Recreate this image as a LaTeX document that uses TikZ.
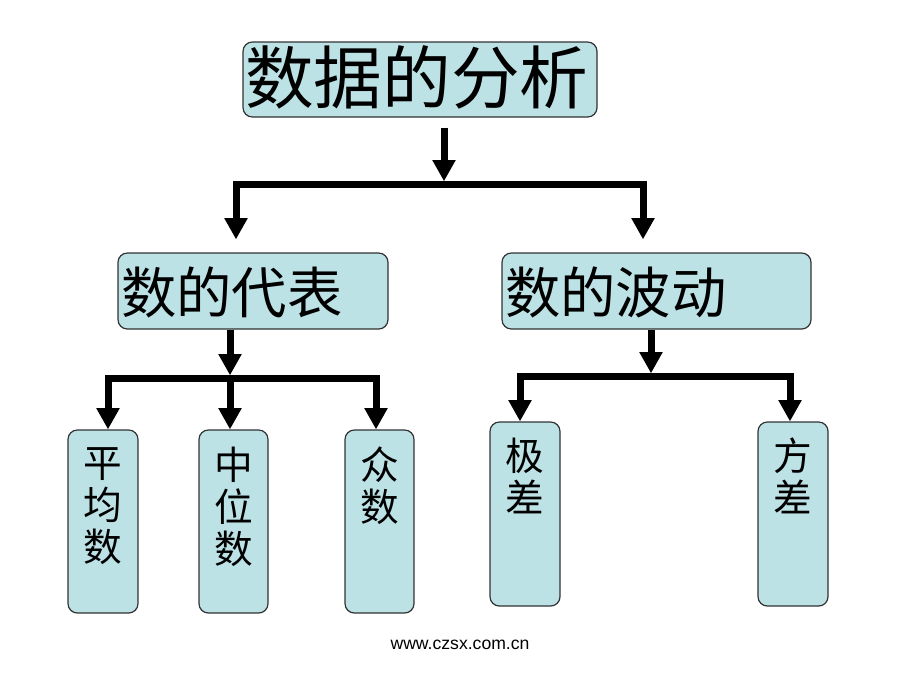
\documentclass[tikz,border=0pt]{standalone}
\usepackage{fontspec}
\setmainfont{Liberation Sans}
\newfontfamily\cjk{Noto Sans CJK SC}
\usetikzlibrary{arrows.meta}
\definecolor{boxfill}{RGB}{189,226,230}
\definecolor{boxline}{RGB}{50,50,50}
\begin{document}
\begin{tikzpicture}[x=0.75pt,y=-0.75pt,
  box/.style={draw=boxline,fill=boxfill,line width=0.9pt,rounded corners=7pt,inner sep=0pt},
  bigtxt/.style={inner sep=0pt,anchor=west,font=\cjk\fontsize{51.5}{56}\selectfont},
  midtxt/.style={inner sep=0pt,anchor=west,font=\cjk\fontsize{41.5}{46}\selectfont},
  vtxt/.style={inner sep=0pt,anchor=north,align=center,font=\cjk\fontsize{29}{31.5}\selectfont},
  arr/.style={line width=5.25pt,line join=miter,-{Triangle[width=16.5pt,length=16pt]}},
  barline/.style={line width=5.25pt,line join=miter}]
\useasboundingbox (0,0) rectangle (920,690);
% boxes
\node[box,minimum width=265.5pt,minimum height=56.25pt] (top) at (420,79.5) {};
\node[bigtxt] (toptxt) at (245,77) {数据的分析};
\node[box,minimum width=202.5pt,minimum height=57pt] (rep) at (253,291) {};
\node[midtxt] (reptxt) at (121,292) {数的代表};
\node[box,minimum width=231.75pt,minimum height=57pt] (flu) at (656.5,291) {};
\node[midtxt] (flutxt) at (505,292) {数的波动};
\node[box,minimum width=52.5pt,minimum height=137.25pt] (mean) at (103,521.5) {};
\node[vtxt] (meantxt) at (103,447) {平\\均\\数};
\node[box,minimum width=51.75pt,minimum height=137.25pt] (median) at (233.5,521.5) {};
\node[vtxt] (mediantxt) at (233.5,447) {中\\位\\数};
\node[box,minimum width=51.75pt,minimum height=137.25pt] (mode) at (379.5,521.5) {};
\node[vtxt] (modetxt) at (379.5,447) {众\\数};
\node[box,minimum width=52.5pt,minimum height=138pt] (range) at (525,514) {};
\node[vtxt] (rangetxt) at (525,438) {极\\差};
\node[box,minimum width=52.5pt,minimum height=138pt] (var) at (793,514) {};
\node[vtxt] (vartxt) at (793,438) {方\\差};
% junction coordinates
\coordinate (j1) at (444,184);
\coordinate (j1l) at (236,184);
\coordinate (j1r) at (643,184);
\coordinate (j2) at (230,378);
\coordinate (j2l) at (108,378);
\coordinate (j2r) at (376,378);
\coordinate (j3) at (651,376);
\coordinate (j3l) at (520,376);
\coordinate (j3r) at (790,376);
% top level
\draw[arr,shorten <=7.5pt,shorten >=2pt] (top.south -| j1) -- (j1);
\draw[arr,shorten >=9.75pt] (j1) -| (j1l |- rep.north);
\draw[arr,shorten >=9.75pt] (j1) -| (j1r |- flu.north);
% left branch
\draw[arr,shorten >=2pt] (rep.south -| j2) -- (j2);
\draw[arr] (j2) -- (j2 |- mode.north);
\draw[arr] (j2) -| (j2l |- mean.north);
\draw[arr] (j2) -| (j2r |- mode.north);
% right branch
\draw[arr,shorten >=2pt] (flu.south -| j3) -- (j3);
\draw[arr] (j3) -| (j3l |- range.north);
\draw[arr] (j3) -| (j3r |- var.north);
% footer
\node[font=\fontsize{13.2}{15}\selectfont] (footer) at (460,645) {www.czsx.com.cn};
\end{tikzpicture}
\end{document}
